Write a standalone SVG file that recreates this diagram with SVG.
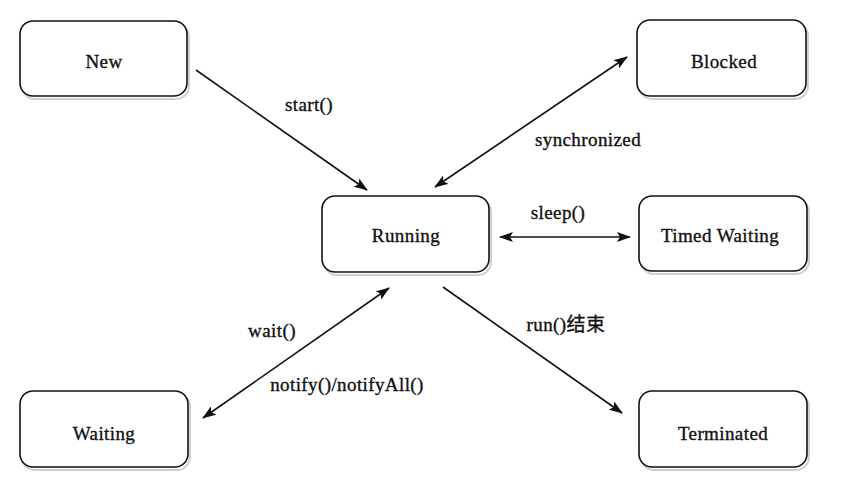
<svg xmlns="http://www.w3.org/2000/svg" width="855" height="479" viewBox="0 0 855 479">
<style>
.box{fill:#fff;stroke:#111;stroke-width:1.6}
.shadow{fill:none;stroke:#d0d0d0;stroke-width:2}
.lbl{font-family:"Liberation Serif","Noto Sans CJK SC",serif;font-size:19px;fill:#111;stroke:#111;stroke-width:0.35;text-anchor:middle;letter-spacing:0.4px}
.edge{stroke:#111;stroke-width:1.6;fill:none}
</style>
<defs>
<marker id="ah" viewBox="0 0 14 10" refX="13" refY="5" markerWidth="14" markerHeight="10" markerUnits="userSpaceOnUse" orient="auto-start-reverse">
<path d="M0,0 L14,5 L0,10 L3,5 Z" fill="#111"/>
</marker>
</defs>
<rect width="855" height="479" fill="#fff"/>
<g id="node-new">
<rect class="shadow" x="22" y="24" width="167" height="75" rx="13"/>
<rect class="box" x="20" y="21" width="167" height="75" rx="13"/>
<text class="lbl" x="104" y="68">New</text>
</g>
<g id="node-blocked">
<rect class="shadow" x="639" y="23" width="169" height="76" rx="13"/>
<rect class="box" x="637" y="20" width="169" height="76" rx="13"/>
<text class="lbl" x="724" y="68">Blocked</text>
</g>
<g id="node-running">
<rect class="shadow" x="324" y="199" width="167" height="76" rx="13"/>
<rect class="box" x="322" y="196" width="167" height="76" rx="13"/>
<text class="lbl" x="406" y="242">Running</text>
</g>
<g id="node-timed-waiting">
<rect class="shadow" x="641" y="199" width="168" height="75" rx="13"/>
<rect class="box" x="639" y="196" width="168" height="75" rx="13"/>
<text class="lbl" x="720" y="242">Timed Waiting</text>
</g>
<g id="node-waiting">
<rect class="shadow" x="22" y="394" width="168" height="76" rx="13"/>
<rect class="box" x="20" y="391" width="168" height="76" rx="13"/>
<text class="lbl" x="104" y="440">Waiting</text>
</g>
<g id="node-terminated">
<rect class="shadow" x="641" y="394" width="168" height="76" rx="13"/>
<rect class="box" x="639" y="391" width="168" height="76" rx="13"/>
<text class="lbl" x="723" y="440">Terminated</text>
</g>
<g id="connectors">
<line class="edge" x1="196" y1="70" x2="367" y2="190" marker-end="url(#ah)"/>
<line class="edge" x1="435" y1="187" x2="627" y2="57" marker-start="url(#ah)" marker-end="url(#ah)"/>
<line class="edge" x1="500" y1="237" x2="630" y2="237" marker-start="url(#ah)" marker-end="url(#ah)"/>
<line class="edge" x1="389" y1="288" x2="203" y2="418" marker-start="url(#ah)" marker-end="url(#ah)"/>
<line class="edge" x1="443" y1="287" x2="622" y2="413" marker-end="url(#ah)"/>
<text class="lbl" x="309" y="111">start()</text>
<text class="lbl" x="588" y="146">synchronized</text>
<text class="lbl" x="558" y="219">sleep()</text>
<text class="lbl" x="272" y="337">wait()</text>
<text class="lbl" x="347" y="391">notify()/notifyAll()</text>
<text class="lbl" x="566" y="331">run()结束</text>
</g>
</svg>
